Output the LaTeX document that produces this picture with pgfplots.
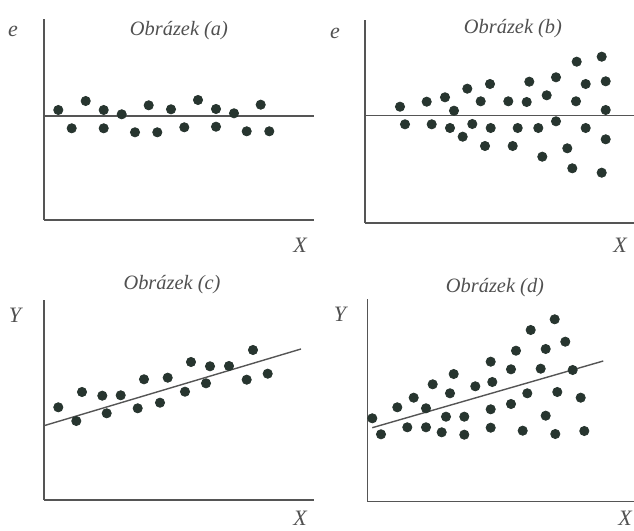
\documentclass[border=0pt]{standalone}
\usepackage{fontspec}
\setmainfont{Liberation Serif}
\usepackage{pgfplots}
\pgfplotsset{compat=1.18}
\definecolor{dotc}{HTML}{27352F}
\definecolor{axc}{HTML}{555555}
\definecolor{txtc}{HTML}{505050}
\pgfplotsset{panel/.style={scale only axis, x=0.5pt, y=0.5pt, axis lines=left,
  axis line style={-, draw=axc, line width=0.8pt}, ticks=none, clip=false, anchor=south west},
  dots/.style={only marks, mark=*, mark size=2.3pt, dotc, mark options={draw=dotc, fill=dotc}},
  fitl/.style={axc, line width=0.7pt, no marks}}
\newcommand{\ttl}{\fontsize{10.2}{12}\selectfont\itshape\color{txtc}}
\newcommand{\lbl}{\fontsize{11}{13}\selectfont\itshape\color{txtc}}
\begin{document}
\begin{tikzpicture}
\useasboundingbox (0,0) rectangle (317pt,265.5pt);
% (a)
\begin{axis}[panel, at={(22pt,155.5pt)}, xmin=44, xmax=314, ymin=311, ymax=512]
\addplot[fitl] coordinates {(44,415) (314,415)};
\addplot[dots] coordinates {(58.3,421) (71.7,402.7) (85.7,430) (103.7,421) (103.7,402.7) (121.7,416.7) (135,398.7) (148.7,425.7) (157.3,398.7) (171,421.7) (184.3,403.7) (198,431) (216,422) (216,404.3) (234,417.7) (246.7,399.7) (260.7,426.3) (269.3,399.7)};
\node[font=\ttl] at (axis cs:179,500) {Obrázek (a)};
\node[font=\lbl] at (axis cs:13,500) {e};
\node[font=\lbl] at (axis cs:300,286) {X};
\end{axis}
% (b)
\begin{axis}[panel, at={(182.5pt,154pt)}, xmin=365, xmax=634, ymin=308, ymax=511]
\addplot[fitl] coordinates {(365,415.3) (634,415.3)};
\addplot[dots] coordinates {(400,424.3) (405,406.7) (426.7,429.3) (431.7,406.7) (445,433.7) (450,403) (454,420.3) (462.7,394.3) (467.3,442.3) (472.3,407) (480.7,429.7) (485,385) (490,447) (490.7,403) (508.3,429.7) (512.7,385) (517.7,403) (526.7,429) (529.3,449.3) (538.3,403) (542.3,374.3) (546.7,435.7) (556,453.7) (556,409.7) (567.3,382.7) (572.3,362.7) (576,429.7) (576.7,469.3) (585.7,447) (585.7,403) (601.7,474.3) (605.7,449.7) (605.7,421) (605.7,391.7) (601.7,358.3)};
\node[font=\ttl] at (axis cs:513,502) {Obrázek (b)};
\node[font=\lbl] at (axis cs:335,498) {e};
\node[font=\lbl] at (axis cs:620,286) {X};
\end{axis}
% (c)
\begin{axis}[panel, at={(22pt,15.5pt)}, xmin=44, xmax=314, ymin=31, ymax=231]
\addplot[fitl] coordinates {(44,105.3) (301,182)};
\addplot[dots] coordinates {(58.3,123.7) (76.3,110) (82,139) (102.3,135.3) (106.7,117.7) (120.7,135.7) (137.7,122.7) (144,151.7) (160,128.3) (167.7,153.3) (185,139.3) (191,169) (210,164.7) (206,147.7) (229,165) (246.7,151.3) (253,181) (267.7,157.3)};
\node[font=\ttl] at (axis cs:172,246) {Obrázek (c)};
\node[font=\lbl] at (axis cs:15,216) {Y};
\node[font=\lbl] at (axis cs:300,13) {X};
\end{axis}
% (d)
\begin{axis}[panel, at={(183.85pt,14.65pt)}, xmin=367.7, xmax=634, ymin=29.3, ymax=232]
\addplot[fitl] coordinates {(372.3,103.3) (603.3,170)};
\addplot[dots] coordinates {(372.3,112.7) (381,96.7) (397.3,123.7) (407.3,103.7) (413.7,133.3) (426,122.7) (426,103.7) (432.7,146.7) (441.7,98.7) (446,114.3) (450,137.7) (453.7,157) (464.3,114.3) (464.3,96.3) (475.3,144.7) (490.7,169.3) (492.3,149) (490.7,121.7) (490.7,103.3) (511,161.7) (511,127) (516,180.3) (522.7,100.3) (527.3,137.7) (530.7,201) (540.7,162.3) (545.7,182) (545.7,115.3) (554.7,211.7) (555.3,97) (557.3,139) (565.3,189.3) (572.7,161) (580.7,133.3) (584.3,100)};
\node[font=\ttl] at (axis cs:495,243) {Obrázek (d)};
\node[font=\lbl] at (axis cs:340,217) {Y};
\node[font=\lbl] at (axis cs:625,13) {X};
\end{axis}
\end{tikzpicture}
\end{document}
